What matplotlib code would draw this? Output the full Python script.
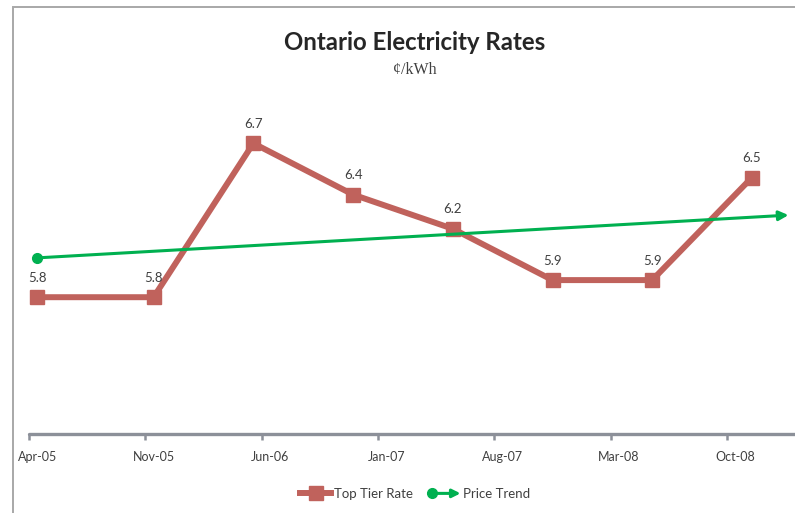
import matplotlib
matplotlib.use("Agg")
import matplotlib.pyplot as plt
from matplotlib.patches import Rectangle, FancyArrowPatch
from matplotlib.lines import Line2D
from matplotlib.legend_handler import HandlerBase

# ---- data ----
rate_dates = ["2005-04", "2005-11", "2006-05", "2006-11", "2007-05", "2007-11", "2008-05", "2008-11"]
rate_values = [5.8, 5.8, 6.7, 6.4, 6.2, 5.9, 5.9, 6.5]
rate_labels = ["5.8", "5.8", "6.7", "6.4", "6.2", "5.9", "5.9", "6.5"]
trend_months = [0.5, 45.7]          # months since Apr-05 (start / end of trend arrow)
trend_values = [6.03, 6.28]
tick_labels = ["Apr-05", "Nov-05", "Jun-06", "Jan-07", "Aug-07", "Mar-08", "Oct-08"]
tick_step = 7

RED = "#c0625c"
GREEN = "#00b050"
AXIS = "#8c9099"
TXT = "#404040"
FONT = ["Lato", "DejaVu Sans"]

plt.rcParams["font.family"] = FONT


def month_index(s):
    y, m = s.split("-")
    return (int(y) - 2005) * 12 + (int(m) - 4)


# points sit mid-month (between tick marks)
rate_x = [month_index(d) + 0.5 for d in rate_dates]

W, H = 795, 513
fig = plt.figure(figsize=(W / 100, H / 100), dpi=100)
fig.patch.set_facecolor("white")

# chart-area border (left and top visible)
top = 1 - 7 / H
fig.patches.append(Rectangle((13 / W, -0.2), 1.5, top + 0.2,
                             transform=fig.transFigure, fill=False,
                             edgecolor="#a8a8a8", lw=1.4, zorder=0))

px_per_month = 698 / 42
xmax = 48
ax = fig.add_axes([29 / W, (H - 434) / H, xmax * px_per_month / W, 342 / H])
ax.set_xlim(0, xmax)
ax.set_ylim(5.0, 7.0)
ax.set_facecolor("none")

for s in ["top", "right", "left"]:
    ax.spines[s].set_visible(False)
ax.spines["bottom"].set_color(AXIS)
ax.spines["bottom"].set_linewidth(2.4)
ax.spines["bottom"].set_capstyle("round")
ax.set_yticks([])

major = [i * tick_step for i in range(len(tick_labels))]
ax.set_xticks(major)
ax.set_xticklabels([])
ax.tick_params(axis="x", which="major", length=4, width=1.8, color=AXIS, direction="out")
ax.set_xticks([m + 0.5 for m in major], minor=True)
ax.set_xticklabels(tick_labels, minor=True, fontsize=9, color=TXT)
ax.tick_params(axis="x", which="minor", length=0, pad=12)

# Top tier rate line
ax.plot(rate_x, rate_values, color=RED, lw=4.3, marker="s", markersize=10,
        markeredgecolor=RED, markerfacecolor=RED, zorder=3, clip_on=False,
        solid_joinstyle="miter")
for x, v, lab in zip(rate_x, rate_values, rate_labels):
    ax.annotate(lab, (x, v), xytext=(0, 14), textcoords="offset points",
                ha="center", va="center", fontsize=9.5, color=TXT, zorder=5)

# Price trend arrow
ax.annotate("", xy=(trend_months[1], trend_values[1]), xytext=(trend_months[0], trend_values[0]),
            arrowprops=dict(arrowstyle="-|>", color=GREEN, lw=2.2, mutation_scale=14,
                            shrinkA=0, shrinkB=0), zorder=4)
ax.plot(trend_months[:1], trend_values[:1], marker="o", color=GREEN, markersize=7,
        lw=0, zorder=4, clip_on=False)

# titles
fig.text(415 / W, 1 - 43 / H, "Ontario Electricity Rates", ha="center", va="center",
         fontsize=17.3, fontweight="bold", color="#262626")
fig.text(415 / W, 1 - 70 / H, "¢/kWh", ha="center", va="center", fontsize=11.5,
         color="#404040", family=["Liberation Serif", "DejaVu Serif"])


class HandlerArrow(HandlerBase):
    def create_artists(self, legend, orig_handle, xdescent, ydescent, width, height,
                       fontsize, trans):
        y = (height - ydescent) / 2.0
        x0, x1 = -xdescent, -xdescent + width
        arr = FancyArrowPatch((x0, y), (x1, y), arrowstyle="-|>", color=GREEN, lw=2.2,
                              mutation_scale=12, shrinkA=0, shrinkB=0, transform=trans)
        dot = Line2D([x0 + 2], [y], marker="o", color=GREEN, markersize=7, lw=0,
                     transform=trans)
        return [arr, dot]


h_red = Line2D([], [], color=RED, lw=4.3, marker="s", markersize=10)
h_green = Line2D([], [], color=GREEN)
fig.legend([h_red, h_green], ["Top Tier Rate", "Price Trend"],
           handler_map={h_green: HandlerArrow()},
           loc="center", bbox_to_anchor=(415 / W, 1 - 494 / H), ncol=2, frameon=False,
           fontsize=9.5, handlelength=2.4, columnspacing=1.2, handletextpad=0.2,
           labelcolor=TXT, numpoints=1)

fig.savefig("out.png", dpi=100, facecolor="white")
